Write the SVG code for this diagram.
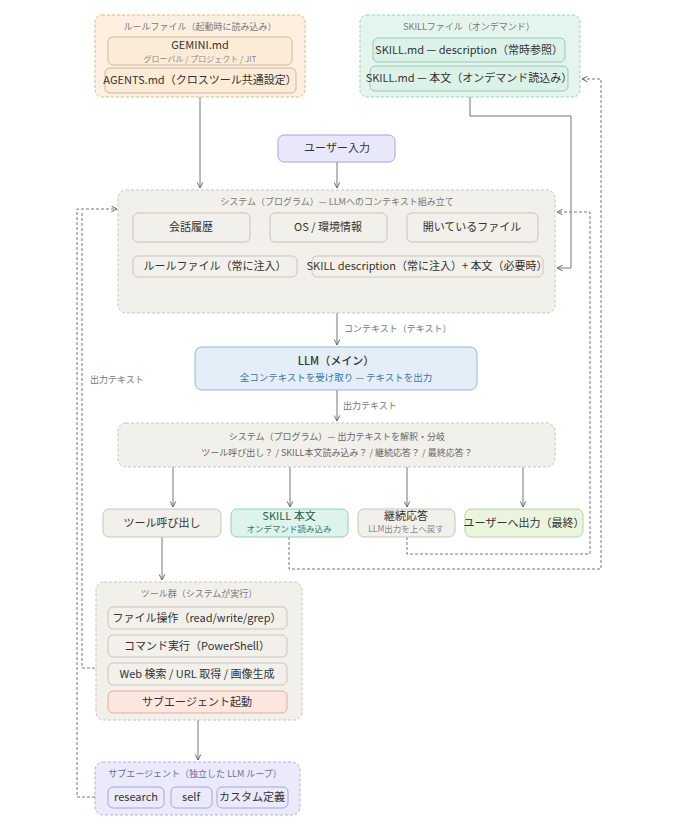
<svg xmlns="http://www.w3.org/2000/svg" width="684" height="837" viewBox="0 0 684 837">
<defs>
<marker id="ah" viewBox="0 0 10 10" refX="9" refY="5" markerWidth="7" markerHeight="7" orient="auto-start-reverse">
<path d="M1,1 L9,5 L1,9" fill="none" stroke="#666" stroke-width="1.4"/>
</marker>
<style>
text{font-family:"Noto Sans CJK JP","Noto Sans",sans-serif;text-anchor:middle;fill:#333}
.t{font-size:11px}
.g{font-size:9px;fill:#777}
.s{font-size:8.5px;fill:#888}
.grp{stroke-dasharray:3 2;stroke-width:1}
.ln{fill:none;stroke:#777;stroke-width:1}
.dl{fill:none;stroke:#777;stroke-width:1;stroke-dasharray:3 2}
.sys{fill:#f2f0ea;stroke:#c9c5bb}
.sb{fill:#f2f0ea;stroke:#c9c5bb;stroke-width:1}
</style>
</defs>
<rect width="684" height="837" fill="#ffffff"/>

<g id="connectors">
<path class="ln" d="M200,97 V188" marker-end="url(#ah)"/>
<path class="ln" d="M337,162 V188" marker-end="url(#ah)"/>
<path class="ln" d="M470,97 V116 H571 V268 H557" marker-end="url(#ah)"/>
<path class="ln" d="M337,313 V345" marker-end="url(#ah)"/>
<path class="ln" d="M337,390 V421" marker-end="url(#ah)"/>
<path class="ln" d="M173,467 V507" marker-end="url(#ah)"/>
<path class="ln" d="M290,467 V507" marker-end="url(#ah)"/>
<path class="ln" d="M407,467 V507" marker-end="url(#ah)"/>
<path class="ln" d="M523,467 V507" marker-end="url(#ah)"/>
<path class="ln" d="M162,537 V580" marker-end="url(#ah)"/>
<path class="ln" d="M198,720 V760" marker-end="url(#ah)"/>
<path class="dl" d="M407,537 V554 H590 V212 H557" marker-end="url(#ah)"/>
<path class="dl" d="M289,537 V569 H601 V79 H582" marker-end="url(#ah)"/>
<path class="dl" d="M95,797 H77 V209 H117" marker-end="url(#ah)"/>
<path class="dl" d="M95,668 H82 V213"/>
<text class="g" x="344" y="332" style="text-anchor:start">コンテキスト（テキスト）</text>
<text class="g" x="343" y="409" style="text-anchor:start">出力テキスト</text>
<text class="g" x="90" y="383" style="text-anchor:start">出力テキスト</text>
</g>

<g id="rule-files">
<rect class="grp" x="95" y="15" width="210" height="82" rx="7" fill="#fdf0e1" stroke="#d8b792"/>
<text class="g" x="200" y="30">ルールファイル（起動時に読み込み）</text>
<rect x="108" y="37" width="184" height="28" rx="5" fill="#fcebd7" stroke="#cdb9a0"/>
<text class="t" x="200" y="49">GEMINI.md</text>
<text x="200" y="62" style="font-size:8px;fill:#888">グローバル / プロジェクト / JIT</text>
<rect x="105" y="68" width="191" height="25" rx="5" fill="#fcebd7" stroke="#cdb9a0"/>
<text class="t" x="200" y="84">AGENTS.md（クロスツール共通設定）</text>
</g>

<g id="skill-files">
<rect class="grp" x="360" y="15" width="220" height="82" rx="7" fill="#e4f5ee" stroke="#9fcfba"/>
<text class="g" x="469" y="30">SKILLファイル（オンデマンド）</text>
<rect x="373" y="38" width="192" height="24" rx="5" fill="#dcf2e9" stroke="#9bc6b4"/>
<text class="t" x="469" y="54">SKILL.md — description（常時参照）</text>
<rect x="370" y="66" width="198" height="25" rx="5" fill="#dcf2e9" stroke="#9bc6b4"/>
<text class="t" x="469" y="82">SKILL.md — 本文（オンデマンド読込み）</text>
</g>

<g id="user-input">
<rect x="278" y="135" width="117" height="27" rx="6" fill="#e9e7fa" stroke="#aaa4d8"/>
<text class="t" x="337" y="152">ユーザー入力</text>
</g>

<g id="system-context">
<rect class="grp sys" x="118" y="190" width="437" height="123" rx="8"/>
<text class="g" x="337" y="205">システム（プログラム）— LLMへのコンテキスト組み立て</text>
<rect class="sb" x="133" y="213" width="117" height="29" rx="5"/>
<text class="t" x="191" y="231">会話履歴</text>
<rect class="sb" x="270" y="213" width="117" height="29" rx="5"/>
<text class="t" x="328" y="231">OS / 環境情報</text>
<rect class="sb" x="407" y="213" width="131" height="29" rx="5"/>
<text class="t" x="472" y="231">開いているファイル</text>
<rect class="sb" x="133" y="256" width="164" height="21" rx="5"/>
<text class="t" x="215" y="270">ルールファイル（常に注入）</text>
<rect class="sb" x="312" y="256" width="231" height="21" rx="5"/>
<text class="t" x="427" y="270">SKILL description（常に注入）+ 本文（必要時）</text>
</g>

<g id="llm">
<rect x="195" y="347" width="282" height="43" rx="7" fill="#e3eef9" stroke="#92b6da"/>
<text class="t" x="336" y="365" style="font-weight:500">LLM（メイン）</text>
<text x="336" y="381" style="font-size:9.5px;fill:#3f75a6">全コンテキストを受け取り — テキストを出力</text>
</g>

<g id="system-branch">
<rect class="grp sys" x="118" y="423" width="437" height="44" rx="8"/>
<text class="g" x="337" y="440" style="fill:#666">システム（プログラム）— 出力テキストを解釈・分岐</text>
<text class="g" x="337" y="456" style="fill:#666">ツール呼び出し？ / SKILL本文読み込み？ / 継続応答？ / 最終応答？</text>
</g>

<g id="tool-call">
<rect class="sb" x="103" y="509" width="118" height="28" rx="6"/>
<text class="t" x="162" y="527">ツール呼び出し</text>
</g>

<g id="skill-body">
<rect x="231" y="509" width="117" height="28" rx="6" fill="#def3ec" stroke="#8fcdb8"/>
<text class="t" x="289" y="520" style="fill:#1e5e4e">SKILL 本文</text>
<text x="289" y="532" style="font-size:8.5px;fill:#2f7a66">オンデマンド読み込み</text>
</g>

<g id="continue">
<rect class="sb" x="358" y="509" width="97" height="28" rx="6"/>
<text class="t" x="406" y="520">継続応答</text>
<text class="s" x="406" y="532">LLM出力を上へ戻す</text>
</g>

<g id="final-output">
<rect x="465" y="509" width="118" height="28" rx="6" fill="#ebf4dd" stroke="#b6d39c"/>
<text class="t" x="524" y="527">ユーザーへ出力（最終）</text>
</g>

<g id="tools">
<rect class="grp sys" x="96" y="582" width="206" height="138" rx="8"/>
<text class="g" x="199" y="597">ツール群（システムが実行）</text>
<rect class="sb" x="108" y="607" width="179" height="22" rx="5"/>
<text class="t" x="197" y="622">ファイル操作（read/write/grep）</text>
<rect class="sb" x="108" y="635" width="179" height="22" rx="5"/>
<text class="t" x="197" y="650">コマンド実行（PowerShell）</text>
<rect class="sb" x="108" y="663" width="179" height="22" rx="5"/>
<text class="t" x="197" y="678">Web 検索 / URL 取得 / 画像生成</text>
<rect x="108" y="691" width="179" height="22" rx="5" fill="#fbe6e0" stroke="#e3ab9d"/>
<text class="t" x="197" y="706">サブエージェント起動</text>
</g>

<g id="subagent">
<rect class="grp" x="95" y="762" width="205" height="53" rx="8" fill="#ebeafb" stroke="#b4afe0"/>
<text class="g" x="195" y="777" style="fill:#6e6aa0">サブエージェント（独立した LLM ループ）</text>
<rect x="108" y="787" width="56" height="21" rx="5" fill="#ebeafb" stroke="#aaa4d8"/>
<text class="t" x="136" y="801">research</text>
<rect x="171" y="787" width="41" height="21" rx="5" fill="#ebeafb" stroke="#aaa4d8"/>
<text class="t" x="191" y="801">self</text>
<rect x="217" y="787" width="71" height="21" rx="5" fill="#ebeafb" stroke="#aaa4d8"/>
<text class="t" x="252" y="801">カスタム定義</text>
</g>
</svg>
